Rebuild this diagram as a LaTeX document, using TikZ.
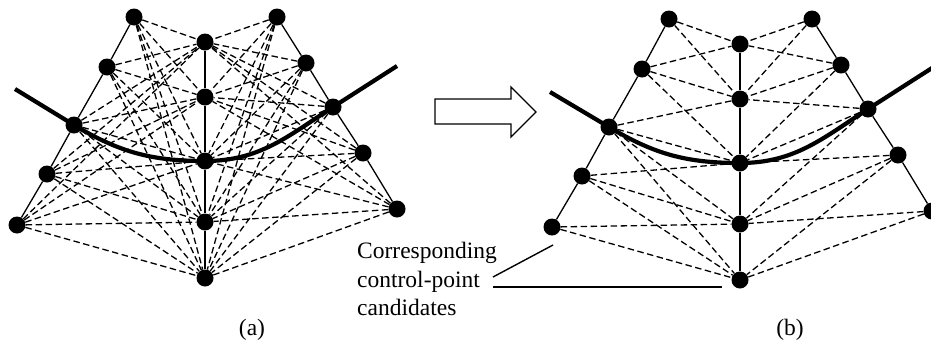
\documentclass[tikz,border=0pt]{standalone}
\usepackage{fontspec}
\setmainfont{Liberation Serif}

\begin{document}
\begin{tikzpicture}[
    x=1pt, y=-1pt,
    dot/.style={circle, fill=black, inner sep=0pt, minimum size=17pt},
    side/.style={line width=1.3pt},
    cand/.style={line width=1.3pt, dash pattern=on 6.5pt off 3.5pt},
    curve/.style={line width=4.2pt},
    lead/.style={line width=1.4pt},
    txt/.style={font=\fontsize{23.5}{28.5}\selectfont, inner sep=0pt, align=left}
]
\useasboundingbox (0,0) rectangle (931,341);

% Nodes: left side, centre line, right side of both grids
\foreach \n/\x/\y in {1/134/17, 2/107/67, 3/74/125, 4/47/174, 5/17/225} {
  \node[dot] (aL\n) at (\x,\y) {};
  \node[dot] (bL\n) at (\x+535,\y+2) {};
}
\foreach \n/\y in {1/42, 2/97, 3/161, 4/222, 5/278} {
  \node[dot] (aC\n) at (205,\y) {};
  \node[dot] (bC\n) at (740,\y+2) {};
}
\foreach \n/\x/\y in {1/277/17, 2/306/63, 3/333/107, 4/363/153, 5/397/209} {
  \node[dot] (aR\n) at (\x,\y) {};
  \node[dot] (bR\n) at (\x+535,\y+2) {};
}

% Solid sides
\foreach \p in {a,b} {
  \draw[side] (\p L1) -- (\p L2) -- (\p L3) -- (\p L4) -- (\p L5);
  \draw[side] (\p C1) -- (\p C2) -- (\p C3) -- (\p C4) -- (\p C5);
  \draw[side] (\p R1) -- (\p R2) -- (\p R3) -- (\p R4) -- (\p R5);
}

% (a) all candidates
\foreach \i in {1,...,5}
  \foreach \j in {1,...,5} {
    \draw[cand] (aL\i) -- (aC\j);
    \draw[cand] (aR\i) -- (aC\j);
  }

% (b) corresponding candidates only
\foreach \i/\js in {1/{1,2}, 2/{1,2,3}, 3/{2,3,4,5}, 4/{3,4,5}, 5/{4,5}}
  \foreach \j in \js \draw[cand] (bL\i) -- (bC\j);
\foreach \i/\js in {1/{1,2}, 2/{1,2,3}, 3/{2,3,4}, 4/{3,4,5}, 5/{4,5}}
  \foreach \j in \js \draw[cand] (bR\i) -- (bC\j);

% Thick curves
\coordinate (aS) at (15,89);
\coordinate (aE) at (397,66);
\coordinate (bS) at (550,92);
\coordinate (bE) at (932,68);
\foreach \p in {a,b}
  \draw[curve] (\p S) -- (\p L3.center) to[out=-31,in=180] (\p C3.center)
    to[out=0,in=-147] (\p R3.center) -- (\p E);

% Hollow arrow
\draw[side, fill=white] (435,99) -- (511,99) -- (511,87) -- (536,112)
  -- (511,137) -- (511,124) -- (435,124) -- cycle;

% Label with leader lines
\node[txt, anchor=north west] (note) at (357,242) {Corresponding\\control-point\\candidates};
\coordinate (noteA) at (493,277);
\coordinate (noteB) at (493,287);
\coordinate (tipL) at (553,245);
\coordinate (tipC) at (722,287);
\draw[lead] (noteA) -- (tipL);
\draw[lead] (noteB) -- (tipC);

% Captions
\node[txt] (capa) at (252,330) {(a)};
\node[txt] (capb) at (790,330) {(b)};

\end{tikzpicture}
\end{document}
